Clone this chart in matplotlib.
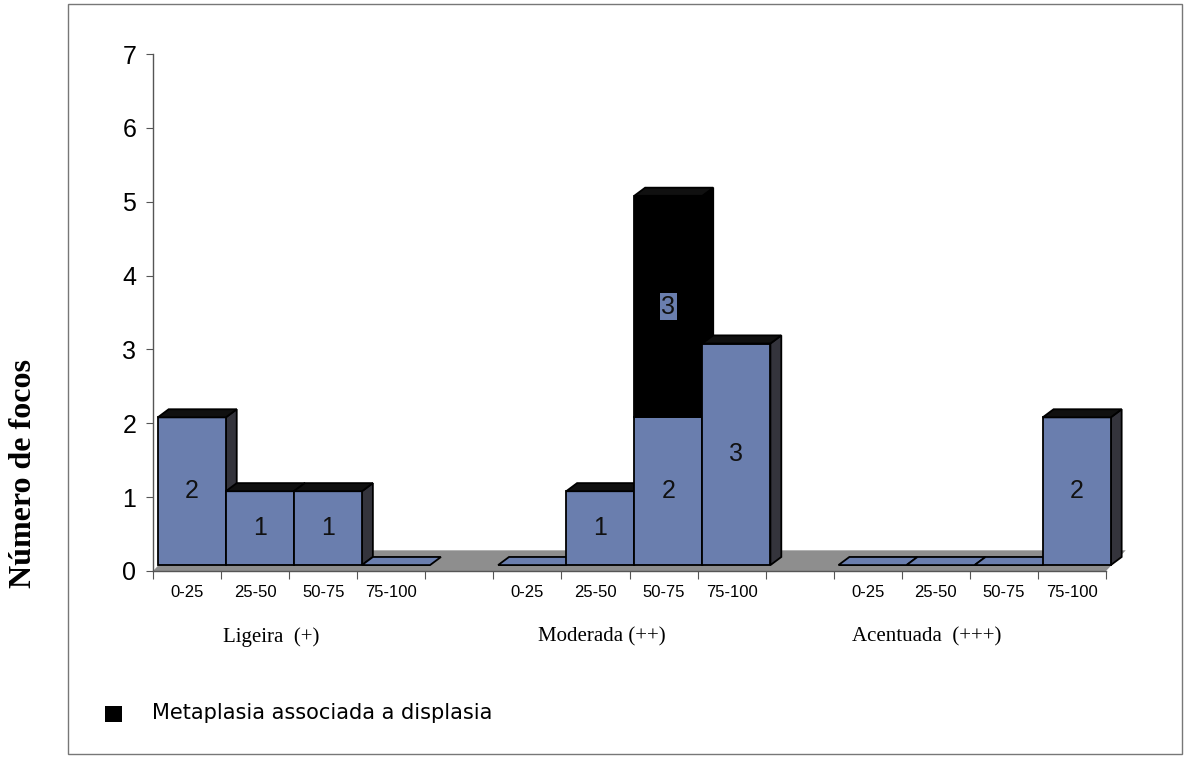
import numpy as np
import matplotlib
matplotlib.use("Agg")
import matplotlib.pyplot as plt
from matplotlib.patches import Rectangle, Polygon

# dados
grupos = ['Ligeira  (+)', 'Moderada (++)', 'Acentuada  (+++)']
classes = ['0-25', '25-50', '50-75', '75-100']
metaplasia = [[2, 1, 1, 0],
              [0, 1, 2, 3],
              [0, 0, 0, 2]]
metaplasia_displasia = [[0, 0, 0, 0],
                        [0, 0, 3, 0],
                        [0, 0, 0, 0]]
yticks = [0, 1, 2, 3, 4, 5, 6, 7]

azul = '#6a7eae'
lado = '#34343c'
topo = '#101010'
chao = '#8e8e8e'

# efeito 3D (em unidades de dados)
ox, oy = 0.07, 0.08     # deslocamento da face frontal
dx, dy = 0.16, 0.11     # profundidade das barras
fdx, fdy = 0.29, 0.28   # profundidade do chao

fig = plt.figure(figsize=(11.86, 7.58), dpi=100)
ax = fig.add_axes([153 / 1186, 187 / 758, 953 / 1186, 517 / 758])
n_slots = len(grupos) * (len(classes) + 1) - 1
ax.set_xlim(0, n_slots)
ax.set_ylim(0, 7)

# chao cinzento
ax.add_patch(Polygon([(0, 0), (n_slots, 0), (n_slots + fdx, fdy), (fdx, fdy)],
                     closed=True, facecolor=chao, edgecolor='none', clip_on=False))

lw = 1.3
centros = []
for g in range(len(grupos)):
    for i in range(len(classes)):
        k = g * (len(classes) + 1) + i
        centros.append(k + 0.5)
        hb = metaplasia[g][i]
        hk = metaplasia_displasia[g][i]
        tot = hb + hk
        left = k + ox
        right = left + 1
        base = oy
        if tot == 0:
            ax.add_patch(Polygon([(left, base), (right, base), (right + dx, base + dy), (left + dx, base + dy)],
                                 closed=True, facecolor=azul, edgecolor='black', lw=lw, clip_on=False))
            continue
        # face lateral
        ax.add_patch(Polygon([(right, base), (right + dx, base + dy), (right + dx, base + hb + dy), (right, base + hb)],
                             closed=True, facecolor=lado, edgecolor='black', lw=lw, clip_on=False))
        if hk:
            ax.add_patch(Polygon([(right, base + hb), (right + dx, base + hb + dy),
                                  (right + dx, base + tot + dy), (right, base + tot)],
                                 closed=True, facecolor='black', edgecolor='black', lw=lw, clip_on=False))
        # face frontal
        ax.add_patch(Rectangle((left, base), 1, hb, facecolor=azul, edgecolor='black', lw=lw, clip_on=False))
        if hk:
            ax.add_patch(Rectangle((left, base + hb), 1, hk, facecolor='black', edgecolor='black', lw=lw, clip_on=False))
        # topo
        ax.add_patch(Polygon([(left, base + tot), (right, base + tot), (right + dx, base + tot + dy), (left + dx, base + tot + dy)],
                             closed=True, facecolor=topo, edgecolor='black', lw=lw, clip_on=False))
        # rotulos
        ax.text(left + 0.5, base + hb / 2, str(hb), ha='center', va='center',
                fontsize=18, family='Liberation Sans', color='#111')
        if hk:
            ax.text(left + 0.5, base + hb + hk / 2, str(hk), ha='center', va='center',
                    fontsize=18, family='Liberation Sans', color='#111',
                    bbox=dict(boxstyle='square,pad=0.05', facecolor=azul, edgecolor='none'))

# eixos
for s in ['top', 'right']:
    ax.spines[s].set_visible(False)
for s in ['left', 'bottom']:
    ax.spines[s].set_color('#555')
    ax.spines[s].set_linewidth(1.0)
ax.set_yticks(yticks)
ax.set_yticklabels([str(v) for v in yticks], fontsize=18, family='Liberation Sans')
ax.tick_params(axis='y', direction='out', length=5, pad=7, color='#555')
ax.set_xticks(np.arange(0, n_slots + 1))
ax.set_xticklabels([])
ax.tick_params(axis='x', which='major', direction='out', length=6, color='#555')
ax.set_xticks(centros, minor=True)
ax.set_xticklabels(classes * len(grupos), minor=True, fontsize=12, family='Liberation Sans')
ax.tick_params(axis='x', which='minor', length=0, pad=10)

pos_grupos = [1.74, 6.59, 11.37]
for g, nome in enumerate(grupos):
    ax.text(pos_grupos[g], -0.89, nome, ha='center', va='center',
            fontsize=15, family='Liberation Serif', clip_on=False)

fig.text(24 / 1186, 0.375, 'Número de focos', rotation=90, ha='center', va='center',
         fontsize=23, fontweight='bold', family='Liberation Serif')

# legenda
fig.add_artist(Rectangle((105 / 1186, 36 / 758), 17 / 1186, 16 / 758,
                         transform=fig.transFigure, facecolor='black', edgecolor='none'))
fig.text(152 / 1186, 45 / 758, 'Metaplasia associada a displasia', ha='left', va='center',
         fontsize=15, family='DejaVu Sans')

# moldura
fig.add_artist(Rectangle((68 / 1186, 4 / 758), 1114 / 1186, 750 / 758,
                         transform=fig.transFigure, facecolor='none', edgecolor='#777', lw=1.0))

fig.savefig('out.png', dpi=100)
